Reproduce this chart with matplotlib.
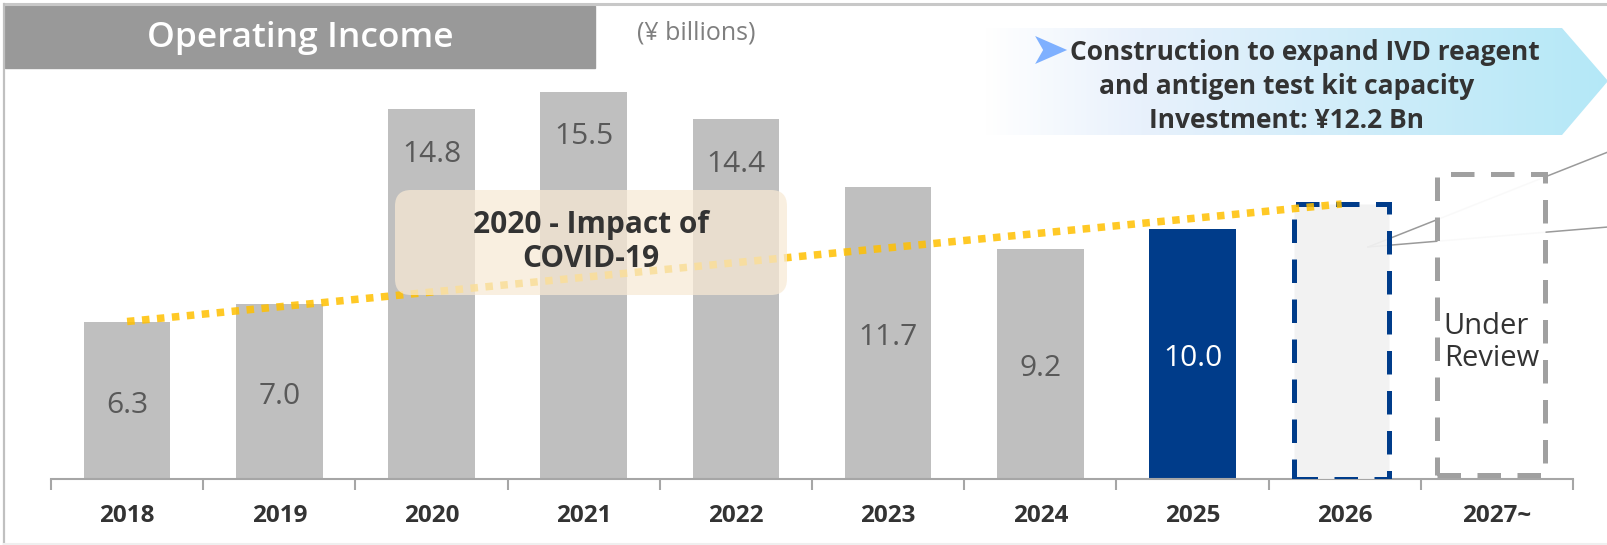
import numpy as np
import matplotlib.pyplot as plt
from matplotlib.patches import Rectangle, FancyBboxPatch, Polygon

plt.rcParams['font.family'] = ['Open Sans', 'DejaVu Sans']

# operating income, ¥ billions
years = ['2018', '2019', '2020', '2021', '2022', '2023', '2024', '2025', '2026', '2027~']
income = [6.3, 7.0, 14.8, 15.5, 14.4, 11.7, 9.2, 10.0]
plan_2026 = 11.0
review_2027 = 12.2
covid_years = ['2020', '2021', '2022']
trend_start = 6.3   # 2018
trend_end = 11.0    # 2026

GRAY = '#BFBFBF'
NAVY = '#003C8A'
W, H = 1608, 545

fig = plt.figure(figsize=(W / 100, H / 100), dpi=100)

# bar area: baseline at 479px, 25px per ¥1bn
base_y, top_y, left_x, right_x = 479, 70, 51, 1573
ax = fig.add_axes([left_x / W, (H - base_y) / H, (right_x - left_x) / W, (base_y - top_y) / H])
ax.patch.set_alpha(0)

# overlay in pixel coordinates for boxes and headings
ov = fig.add_axes([0, 0, 1, 1], zorder=10)
ov.patch.set_alpha(0)

x = np.arange(len(income))
colors = [GRAY] * (len(income) - 1) + [NAVY]
ax.bar(x, income, width=0.57, color=colors, zorder=2)

for i, v in enumerate(income):
    y = v - 1.8 if years[i] in covid_years else v / 2 - 0.2
    c = 'white' if i == len(income) - 1 else '#595959'
    ax.text(i, y, f'{v:.1f}', ha='center', va='center', fontsize=21.5, color=c, zorder=3)

# 2026 plan and 2027~ placeholder
lw = 3.6
ax.add_patch(Rectangle((7.98 - 0.31, 0), 0.62, plan_2026, facecolor=(0.949, 0.949, 0.949, 0.93),
                       edgecolor=NAVY, lw=lw, linestyle=(0, (4.7, 3.3)), zorder=4))
ax.add_patch(Rectangle((8.96 - 0.355, 0.15), 0.71, review_2027 - 0.15, facecolor=(1, 1, 1, 0.95),
                       edgecolor='#A0A0A0', lw=lw, linestyle=(0, (4.7, 3.3)), zorder=4))
ax.text(8.65, 5.45, 'Under\nReview', ha='left', va='center', fontsize=21, color='#333333',
        linespacing=1.15, zorder=5)

# leader lines out to the right edge
for y_end in (152, 227):
    ax.plot([1368, W], [247, y_end], color='#9A9A9A', lw=1.1, transform=ov.transData,
            clip_on=False, zorder=3.5)

# trend line 2018 -> 2026
ax.plot([0, 7.98], [trend_start, trend_end], color='#FFC000', alpha=0.85, lw=5.4,
        linestyle=(0, (1, 1)), dash_capstyle='butt', zorder=5, clip_on=False)

ax.set_xlim(-0.5, 9.5)
ax.set_ylim(0, (base_y - top_y) / 25)
ax.set_xticks(np.arange(-0.5, 10, 1))
ax.set_xticklabels([])
ax.set_xticks(np.arange(len(years)), minor=True)
ax.set_xticklabels(years, minor=True, fontsize=17.5, fontweight='bold', color='#333333')
ax.tick_params(axis='x', which='major', length=8, width=1.5, color='#A6A6A6', direction='out')
ax.tick_params(axis='x', which='minor', length=0, pad=18)
ax.set_yticks([])
for s in ('top', 'left', 'right'):
    ax.spines[s].set_visible(False)
ax.spines['bottom'].set_color('#A6A6A6')
ax.spines['bottom'].set_linewidth(1.5)

# title block
ov.add_patch(Rectangle((5, 6), 590, 62, color='#999999', zorder=1))
ov.text(300, 38, 'Operating Income', ha='center', va='center', fontsize=25.5,
        fontweight='semibold', color='white')
ov.text(696, 33, '(¥ billions)', ha='center', va='center', fontsize=18, color='#7F7F7F')

# investment callout with gradient fill
pts = [(985, 28), (1562, 28), (1608, 81), (1562, 135), (985, 135)]
shape = Polygon(pts, closed=True, fill=False, lw=0)
ov.add_patch(shape)
stops = np.array([[255, 255, 255], [232, 241, 252], [180, 232, 247]]) / 255
t = np.linspace(0, 1, 300)
grad = np.stack([np.interp(t, [0, 0.25, 1], stops[:, k]) for k in range(3)], axis=-1)[None, :, :]
im = ov.imshow(grad, extent=(985, 1608, 135, 28), aspect='auto', interpolation='bilinear', zorder=1)
im.set_clip_path(shape)

t1 = ov.text(1305, 52, 'Construction to expand IVD reagent', ha='center', va='center',
             fontsize=19, fontweight='bold', color='#333333', zorder=3)
ov.text(1287, 87, 'and antigen test kit capacity', ha='center', va='center',
        fontsize=19, fontweight='bold', color='#333333', zorder=3)
ov.text(1287, 120, 'Investment: ¥12.2 Bn', ha='center', va='center',
        fontsize=19, fontweight='bold', color='#333333', zorder=3)

# COVID note
ov.add_patch(FancyBboxPatch((395, 190), 392, 105, boxstyle='round,pad=0,rounding_size=16',
                            facecolor=(248 / 255, 234 / 255, 212 / 255, 0.72), lw=0, zorder=2))
ov.text(591, 242, '2020 - Impact of\nCOVID-19', ha='center', va='center', fontsize=21.5,
        fontweight='bold', color='#333333', linespacing=1.2, zorder=3)

# frame
ov.plot([5, W], [4, 4], color='#C8C8C8', lw=2.2, zorder=4)
ov.plot([4, 4], [4, H], color='#C0C0C0', lw=1.6, zorder=4)
ov.plot([4, W], [543.5, 543.5], color='#EFEFEF', lw=1.5, zorder=4)

ov.set_xlim(0, W)
ov.set_ylim(H, 0)
ov.axis('off')

# arrow marker just left of the first callout line
fig.canvas.draw()
bb = t1.get_window_extent().transformed(ov.transData.inverted())
x0 = min(bb.x0, bb.x1) - 3
ov.add_patch(Polygon([(x0 - 32, 36), (x0, 50), (x0 - 32, 64), (x0 - 24, 50)],
                     closed=True, color='#7EB0FF', lw=0, zorder=3))

fig.savefig('out.png', dpi=100)
